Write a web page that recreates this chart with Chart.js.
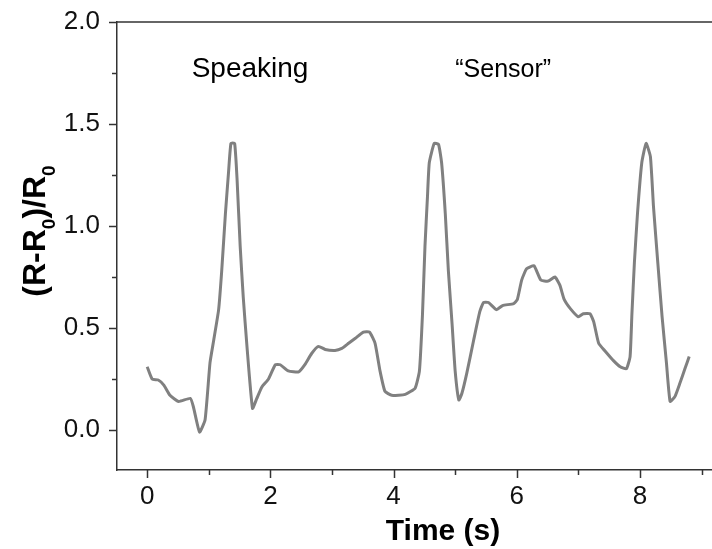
<!DOCTYPE html>
<html>
<head>
<meta charset="utf-8">
<script src="https://cdn.jsdelivr.net/npm/chart.js@4/dist/chart.umd.min.js"></script>
<style>
  html, body { margin: 0; padding: 0; background: #ffffff; }
  #wrap { width: 712px; height: 549px; }
</style>
</head>
<body>
<div id="wrap"><canvas id="c" width="712" height="549"></canvas></div>
<script>
// ---- data ----
const timeS = [0.00,0.08,0.18,0.27,0.37,0.51,0.70,0.75,0.85,0.94,1.02,1.08,1.16,1.21,1.27,1.32,1.36,1.42,1.46,1.51,1.56,1.62,1.71,1.78,1.86,1.97,2.08,2.16,2.29,2.46,2.56,2.67,2.78,2.89,3.05,3.16,3.27,3.38,3.51,3.61,3.70,3.78,3.86,3.97,4.19,4.35,4.42,4.47,4.51,4.55,4.58,4.66,4.73,4.78,4.84,4.89,4.95,5.00,5.06,5.11,5.19,5.30,5.40,5.46,5.54,5.67,5.77,5.95,6.01,6.08,6.16,6.28,6.39,6.51,6.62,6.70,6.77,6.87,7.00,7.08,7.19,7.25,7.33,7.44,7.57,7.68,7.78,7.84,7.87,7.91,7.96,8.03,8.10,8.17,8.22,8.29,8.36,8.43,8.49,8.57,8.65,8.73,8.80];
const response = [0.31,0.25,0.245,0.22,0.17,0.14,0.155,0.114,-0.01,0.05,0.33,0.44,0.59,0.78,1.06,1.26,1.405,1.405,1.225,0.90,0.65,0.41,0.106,0.155,0.21,0.25,0.32,0.32,0.29,0.285,0.32,0.375,0.41,0.395,0.39,0.40,0.425,0.45,0.48,0.48,0.425,0.29,0.19,0.17,0.175,0.205,0.29,0.57,0.90,1.14,1.31,1.405,1.40,1.31,1.06,0.78,0.52,0.29,0.147,0.18,0.28,0.44,0.58,0.625,0.625,0.59,0.61,0.62,0.64,0.735,0.79,0.805,0.735,0.73,0.75,0.71,0.64,0.595,0.555,0.57,0.57,0.53,0.425,0.385,0.34,0.31,0.30,0.36,0.57,0.82,1.06,1.31,1.405,1.34,1.095,0.82,0.555,0.33,0.14,0.165,0.23,0.30,0.36];
const xTicks = [0, 2, 4, 6, 8];
const xMinorTicks = [1, 3, 5, 7, 9];
const yTicks = [0, 0.5, 1.0, 1.5, 2.0];
const yMinorTicks = [0.25, 0.75, 1.25, 1.75];
const annotations = [
  { text: 'Speaking', x: 1.67, y: 1.73, size: 28 },
  { text: '\u201CSensor\u201D', x: 5.78, y: 1.73, size: 25 }
];
const xTitle = 'Time (s)';
const yTitleParts = [['(R-R', false], ['0', true], [')/R', false], ['0', true]];

const FONT = '"Liberation Sans", Arial, Helvetica, sans-serif';
const AXIS_COLOR = '#333333';

const decorPlugin = {
  id: 'decor',
  afterDraw(chart) {
    const ctx = chart.ctx;
    const xs = chart.scales.x, ys = chart.scales.y;
    const area = chart.chartArea;
    ctx.save();
    // top frame line
    ctx.strokeStyle = AXIS_COLOR;
    ctx.lineWidth = 1.5;
    ctx.beginPath();
    ctx.moveTo(area.left, area.top);
    ctx.lineTo(chart.width, area.top);
    ctx.stroke();
    // tick marks (outside)
    const drawX = (v, len) => {
      const px = Math.round(xs.getPixelForValue(v)) + 0.5;
      ctx.beginPath(); ctx.moveTo(px, area.bottom); ctx.lineTo(px, area.bottom + len); ctx.stroke();
    };
    const drawY = (v, len) => {
      const py = Math.round(ys.getPixelForValue(v)) + 0.5;
      ctx.beginPath(); ctx.moveTo(area.left, py); ctx.lineTo(area.left - len, py); ctx.stroke();
    };
    xTicks.forEach(v => drawX(v, 8));
    xMinorTicks.forEach(v => drawX(v, 5));
    yTicks.forEach(v => drawY(v, 8));
    yMinorTicks.forEach(v => drawY(v, 5));
    // annotations
    ctx.fillStyle = '#000000';
    ctx.textAlign = 'center';
    ctx.textBaseline = 'alphabetic';
    annotations.forEach(a => {
      ctx.font = a.size + 'px ' + FONT;
      ctx.fillText(a.text, xs.getPixelForValue(a.x), ys.getPixelForValue(a.y));
    });
    // x title
    ctx.font = 'bold 30px ' + FONT;
    ctx.fillText(xTitle, 443, 540);
    // y title with subscripts, rotated
    const mainFont = 'bold 32px ' + FONT;
    const subFont = 'bold 19px ' + FONT;
    let total = 0;
    yTitleParts.forEach(([t, sub]) => { ctx.font = sub ? subFont : mainFont; total += ctx.measureText(t).width; });
    ctx.translate(45, 231);
    ctx.rotate(-Math.PI / 2);
    ctx.textAlign = 'left';
    let cx = -total / 2;
    yTitleParts.forEach(([t, sub]) => {
      ctx.font = sub ? subFont : mainFont;
      ctx.fillText(t, cx, sub ? 10 : 0);
      cx += ctx.measureText(t).width;
    });
    ctx.restore();
  }
};

new Chart(document.getElementById('c'), {
  type: 'line',
  data: {
    datasets: [{
      data: timeS.map((t, i) => ({ x: t, y: response[i] })),
      borderColor: '#808080',
      borderWidth: 3,
      pointRadius: 0,
      tension: 0.15,
      fill: false
    }]
  },
  options: {
    responsive: false,
    animation: false,
    layout: { padding: { top: 22, right: 0, left: 0, bottom: 0 } },
    plugins: { legend: { display: false }, tooltip: { enabled: false } },
    scales: {
      x: {
        type: 'linear',
        min: -0.49,
        max: 9.17,
        grid: { display: false, drawTicks: false },
        border: { display: true, color: AXIS_COLOR, width: 1.5 },
        afterBuildTicks: s => { s.ticks = xTicks.map(v => ({ value: v })); },
        afterFit: s => { s.height = 79; s.paddingLeft = 0; s.paddingRight = 0; },
        ticks: {
          padding: 11,
          color: '#111111',
          font: { family: FONT, size: 26 },
          maxRotation: 0,
          autoSkip: false,
          callback: v => String(v)
        }
      },
      y: {
        type: 'linear',
        min: -0.196,
        max: 2.0,
        grid: { display: false, drawTicks: false },
        border: { display: true, color: AXIS_COLOR, width: 1.5 },
        afterBuildTicks: s => { s.ticks = yTicks.map(v => ({ value: v })); },
        afterFit: s => { s.width = 117; s.paddingTop = 0; s.paddingBottom = 0; },
        ticks: {
          padding: 17,
          color: '#111111',
          font: { family: FONT, size: 26 },
          autoSkip: false,
          callback: v => v.toFixed(1)
        }
      }
    }
  },
  plugins: [decorPlugin]
});
</script>
</body>
</html>
